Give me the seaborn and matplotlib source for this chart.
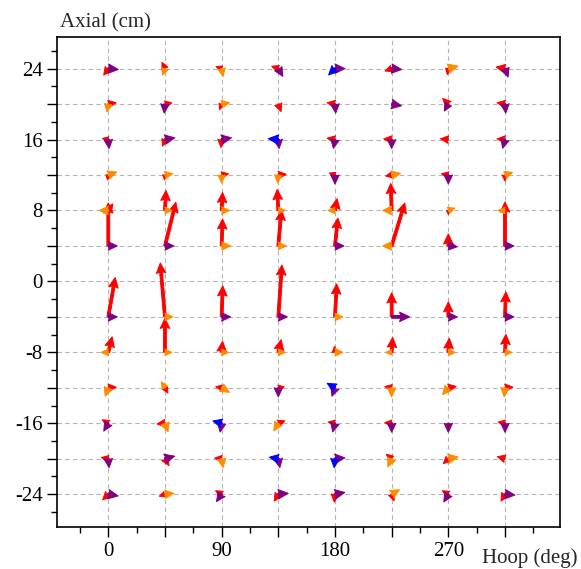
import numpy as np
import pandas as pd
import matplotlib
matplotlib.use('Agg')
import matplotlib.pyplot as plt
import seaborn as sns
from matplotlib.ticker import MultipleLocator, FuncFormatter

# vectors per colour: (hoop deg, axial cm, direction deg, length px)
red_vectors = [
    (0, 24, 235, 8), (45, 24, 115, 7), (90, 24, 160, 6), (135, 24, 160, 7),
    (225, 24, 200, 7), (270, 24, 260, 6), (315, 24, 170, 9),
    (0, 20, 10, 8), (45, 20, 10, 7), (90, 20, 250, 6), (135, 20, 290, 8),
    (180, 20, 170, 8), (270, 20, 135, 8), (315, 20, 170, 8),
    (0, 16, 170, 6), (45, 16, 250, 7), (90, 16, 265, 8), (180, 16, 170, 8),
    (225, 16, 175, 8), (270, 16, 175, 8), (315, 16, 175, 8),
    (0, 12, 260, 5), (45, 12, 265, 5), (90, 12, 10, 7), (135, 12, 5, 8),
    (180, 12, 160, 6), (225, 12, 190, 6), (270, 12, 170, 7), (315, 12, 270, 6),
    (0, 8, 55, 8), (45, 8, 87, 20), (90, 8, 87, 18), (135, 8, 93, 21),
    (180, 8, 80, 12), (225, 8, 92, 27), (270, 8, 270, 4),
    (0, 4, 90, 43), (45, 4, 76, 45), (90, 4, 88, 27), (135, 4, 85, 36),
    (180, 4, 84, 28), (225, 4, 73, 45), (270, 4, 90, 12), (315, 4, 90, 44),
    (0, -4, 80, 40), (45, -4, 95, 54), (90, -4, 88, 31), (135, -4, 86, 52),
    (180, -4, 87, 33), (225, -4, 90, 24), (270, -4, 90, 15), (315, -4, 88, 25),
    (0, -8, 76, 16), (45, -8, 90, 34), (90, -8, 85, 11), (135, -8, 77, 13),
    (180, -8, 95, 6), (225, -8, 86, 15), (270, -8, 86, 14), (315, -8, 87, 18),
    (0, -12, 5, 8), (45, -12, 300, 6), (90, -12, 170, 6), (135, -12, 10, 6),
    (225, -12, 170, 7), (270, -12, 10, 8), (315, -12, 5, 8),
    (0, -16, 150, 7), (45, -16, 185, 8), (135, -16, 20, 7), (180, -16, 170, 7),
    (225, -16, 175, 7), (315, -16, 170, 7),
    (0, -20, 170, 7), (45, -20, 300, 8), (90, -20, 175, 7), (225, -20, 140, 7),
    (270, -20, 225, 7), (315, -20, 165, 8),
    (0, -24, 225, 8), (45, -24, 200, 6), (90, -24, 150, 7), (135, -24, 240, 8),
    (180, -24, 265, 8), (225, -24, 290, 7), (270, -24, 150, 7), (315, -24, 240, 8),
]

orange_vectors = [
    (45, 24, 250, 7), (90, 24, 280, 8), (270, 24, 15, 10),
    (0, 20, 260, 8), (90, 20, 10, 8),
    (0, 12, 20, 9), (45, 12, 10, 8), (90, 12, 270, 8), (135, 12, 265, 8),
    (225, 12, 10, 9), (315, 12, 20, 8),
    (0, 8, 180, 9), (45, 8, 0, 7), (90, 8, 0, 8), (135, 8, 0, 7),
    (180, 8, 180, 7), (225, 8, 180, 9), (270, 8, 20, 7), (315, 8, 180, 7),
    (90, 4, 0, 9), (135, 4, 0, 8), (225, 4, 180, 9),
    (45, -4, 0, 8), (180, -4, 0, 8),
    (0, -8, 180, 7), (45, -8, 0, 7), (90, -8, 0, 7), (135, -8, 0, 7),
    (180, -8, 0, 8), (225, -8, 180, 6), (270, -8, 0, 7), (315, -8, 0, 7),
    (0, -12, 250, 9), (45, -12, 120, 7), (90, -12, 330, 9), (225, -12, 270, 9),
    (270, -12, 230, 9), (315, -12, 265, 9),
    (45, -16, 290, 9), (135, -16, 240, 9),
    (90, -20, 280, 9), (225, -20, 245, 9), (270, -20, 10, 10),
    (45, -24, 5, 9), (225, -24, 30, 9),
]

purple_vectors = [
    (0, 24, -5, 10), (135, 24, 300, 9), (180, 24, 0, 10), (225, 24, -5, 10),
    (315, 24, 290, 9),
    (45, 20, 265, 9), (180, 20, 275, 9), (225, 20, -10, 10), (270, 20, 240, 8),
    (315, 20, 275, 9),
    (0, 16, 275, 9), (45, 16, 10, 10), (90, 16, 10, 10), (135, 16, 275, 9),
    (180, 16, 260, 9), (225, 16, 270, 9), (315, 16, 255, 9),
    (180, 12, 270, 9), (270, 12, 270, 9),
    (0, 4, 0, 9), (45, 4, 0, 9), (180, 4, 0, 9), (270, 4, -5, 9), (315, 4, 0, 9),
    (0, -4, 0, 9), (90, -4, 0, 9), (135, -4, 0, 9), (225, -4, 0, 18),
    (270, -4, 0, 9), (315, -4, 0, 9),
    (135, -12, 270, 9), (180, -12, 250, 9),
    (0, -16, 240, 9), (90, -16, 260, 9), (180, -16, 255, 9), (225, -16, 270, 9),
    (270, -16, 270, 9), (315, -16, 270, 9),
    (0, -20, 275, 9), (45, -20, 15, 10), (135, -20, 280, 9), (180, -20, 5, 10),
    (0, -24, -10, 10), (90, -24, 235, 9), (135, -24, 5, 10), (180, -24, 10, 10),
    (270, -24, 240, 9), (315, -24, -5, 10),
]

blue_vectors = [
    (180, 24, 225, 9), (135, 16, 175, 10), (90, -16, 165, 9),
    (180, -12, 150, 9), (135, -20, 170, 9), (180, -20, 265, 9),
]

groups = [
    ('red', red_vectors, '#ff0000'),
    ('orange', orange_vectors, '#ff8c00'),
    ('purple', purple_vectors, '#800080'),
    ('blue', blue_vectors, '#0000ff'),
]

sns.set_theme(style='ticks')
plt.rcParams['font.family'] = ['Liberation Serif', 'DejaVu Serif']
plt.rcParams['axes.unicode_minus'] = False

fig = plt.figure(figsize=(5.81, 5.69), dpi=100)
ax = fig.add_axes([0.0986, 0.0738, 0.8653, 0.8617])

for name, vecs, col in groups:
    df = pd.DataFrame(vecs, columns=['hoop', 'axial', 'angle', 'length'])
    rad = np.deg2rad(df['angle'])
    u = df['length'] * np.cos(rad)
    v = df['length'] * np.sin(rad)
    ax.quiver(df['hoop'], df['axial'], u, v, color=col,
              angles='uv', units='dots', scale_units='dots', scale=1,
              width=2.8, headwidth=3.4, headlength=3.6, headaxislength=3.2,
              linewidth=0.7, edgecolor=col, zorder=3)

ax.set_xlim(-40.5, 358.7)
ax.set_ylim(-27.7, 27.6)

ax.xaxis.set_major_locator(MultipleLocator(45))
ax.xaxis.set_minor_locator(MultipleLocator(22.5))
ax.yaxis.set_major_locator(MultipleLocator(4))
ax.yaxis.set_minor_locator(MultipleLocator(2))
ax.xaxis.set_major_formatter(FuncFormatter(lambda x, p: f'{x:.0f}' if round(x) % 90 == 0 else ''))
ax.yaxis.set_major_formatter(FuncFormatter(lambda y, p: f'{y:.0f}' if round(y) % 8 == 0 else ''))

ax.grid(True, which='major', linestyle=(0, (4, 3)), color='#b4b4b4', linewidth=0.8, zorder=0)
ax.tick_params(which='major', direction='out', length=7.5, width=1, colors='black', labelsize=15, pad=3)
ax.tick_params(which='minor', direction='out', length=4, width=1, colors='black')
for s in ax.spines.values():
    s.set_linewidth(1.2)
    s.set_color('black')

fig.text(60 / 581, 1 - 27 / 569, 'Axial (cm)', fontsize=15, ha='left', va='baseline')
fig.text(482 / 581, 1 - 563 / 569, 'Hoop (deg)', fontsize=15, ha='left', va='baseline')

fig.savefig('out.png', dpi=100)
